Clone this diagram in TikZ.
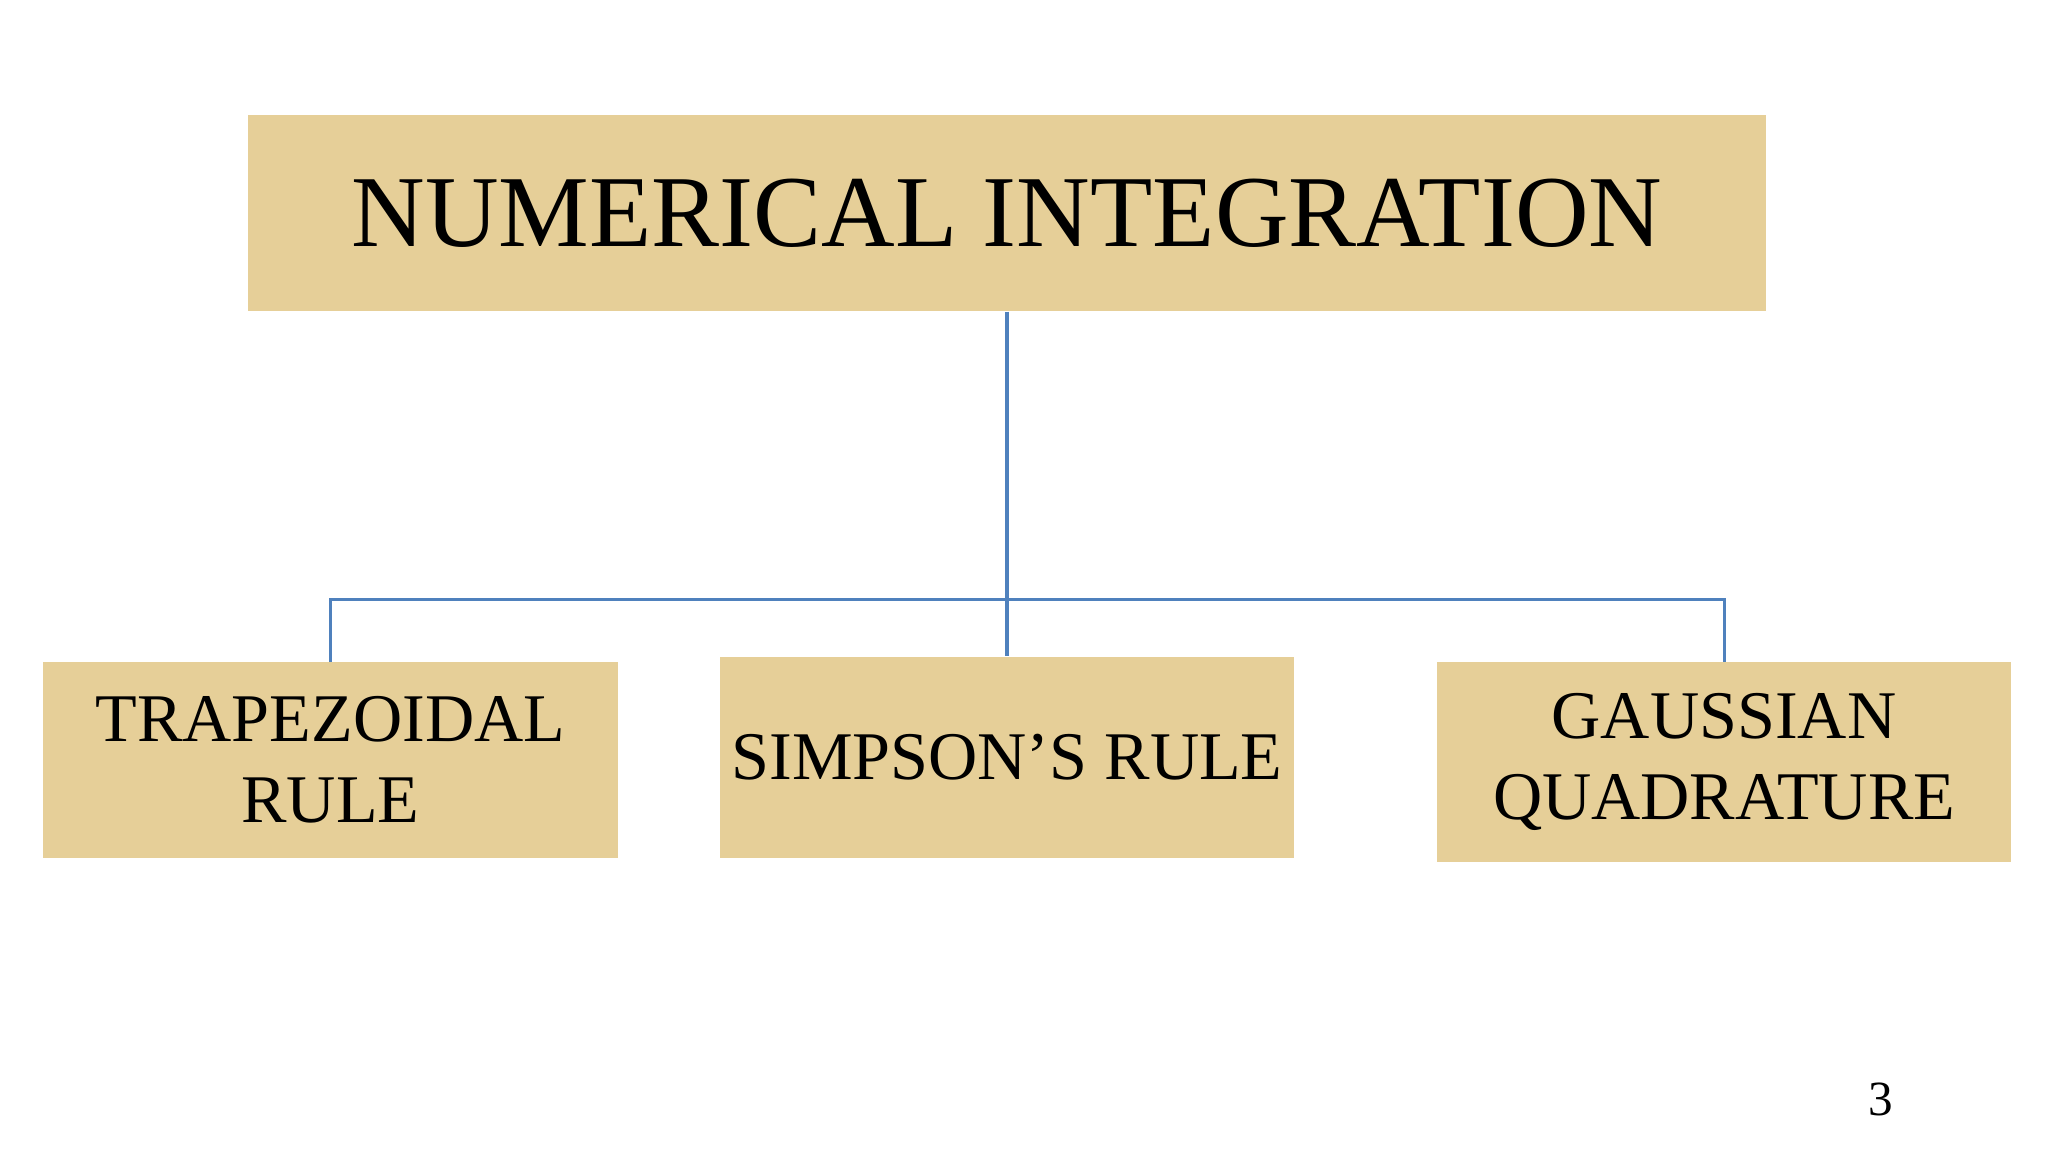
\documentclass[tikz,border=0pt]{standalone}
\usepackage{fontspec}
\setmainfont{Liberation Serif}
\begin{document}
\begin{tikzpicture}[x=0.013061cm,y=-0.013061cm,
  boxstyle/.style={draw=none,fill=papyrus,inner sep=0pt,align=center},
  small/.style={font=\fontsize{19.4}{23}\selectfont},
  conn/.style={draw=linkblue,line width=0.9pt}]
\definecolor{papyrus}{HTML}{E6CF98}
\definecolor{linkblue}{HTML}{4F81BD}
\useasboundingbox (0,0) rectangle (1568,882);
\fill[white] (0,0) rectangle (1568,882);
\node[boxstyle,font=\fontsize{29}{34}\selectfont,minimum width=1162*0.013061cm,minimum height=150*0.013061cm] (top) at (771,163)
  {NUMERICAL INTEGRATION};
\node[boxstyle,small,minimum width=440*0.013061cm,minimum height=150*0.013061cm] (trap) at (253,582)
  {TRAPEZOIDAL\\RULE};
\node[boxstyle,small,minimum width=440*0.013061cm,minimum height=154*0.013061cm] (simp) at (771,580)
  {SIMPSON’S RULE};
\node[boxstyle,small,minimum width=440*0.013061cm,minimum height=153*0.013061cm] (gauss) at (1320,583.5)
  {GAUSSIAN\\QUADRATURE};
\coordinate (hub) at (771,459);
\draw[conn] (top.south) -- (hub);
\draw[conn] (trap.north) |- (hub) -| (gauss.north);
\draw[conn] (hub) -- (simp.north);
\node[font=\fontsize{14}{16}\selectfont] (pg) at (1440,842) {3};
\end{tikzpicture}
\end{document}
